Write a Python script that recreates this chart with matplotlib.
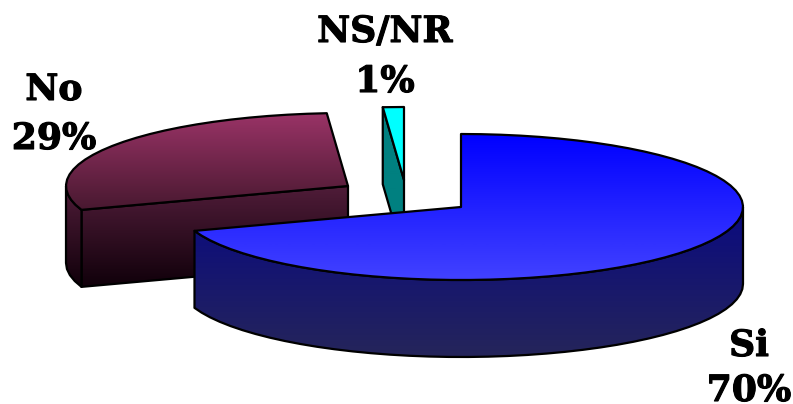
import numpy as np
import matplotlib
matplotlib.use("Agg")
import matplotlib.pyplot as plt
import matplotlib.patheffects as pe
from matplotlib.patches import Polygon
from matplotlib.colors import LinearSegmentedColormap

# datos de la torta (los rotulos van redondeados)
labels = ["Si", "No", "NS/NR"]
values = [69.7, 29.1, 1.2]
pct_text = ["70%", "29%", "1%"]

# geometria en pixeles de la imagen
RX, RY, DEPTH = 282, 73, 77
centers = {"Si": (461, 207), "No": (348, 186), "NS/NR": (404, 180)}
label_pos = {"Si": (749, 346, 391), "No": (54, 90, 139), "NS/NR": (385, 32, 82)}

top_colors = {
    "Si": ("#0000ff", "#4242ff", 134, 280),
    "No": ("#993366", "#47182f", 114, 211),
    "NS/NR": ("#00ffff", "#00ffff", 107, 180),
}
side_colors = {
    "Si": ("#0a0a80", "#25255a", 207, 357),
    "No": ("#4f1c38", "#10000a", 187, 287),
    "NS/NR": ("#008080", "#008080", 107, 260),
}


def rim(cx, cy, a0, a1, dy=0, step=4):
    # angulos en grados, en sentido horario desde arriba
    n = max(2, int(abs(a1 - a0) / step) + 1)
    t = np.radians(np.linspace(a0, a1, n))
    return np.column_stack([cx + RX * np.sin(t), cy - RY * np.cos(t) + dy])


def gradient_poly(ax, pts, colors, zorder):
    c0, c1, y0, y1 = colors
    cmap = LinearSegmentedColormap.from_list("g", [c0, c1])
    grad = np.linspace(0, 1, 256).reshape(-1, 1)
    im = ax.imshow(grad, cmap=cmap, extent=(0, 793, y1, y0), aspect="auto",
                   interpolation="bilinear", zorder=zorder)
    patch = Polygon(pts, closed=True, fc="none", ec="black", lw=1.6,
                    joinstyle="round", zorder=zorder + 0.5)
    ax.add_patch(patch)
    im.set_clip_path(patch)


fig = plt.figure(figsize=(7.93, 4.04), dpi=100)
ax = fig.add_axes([0, 0, 1, 1])

# limites de cada porcion, empezando arriba y en sentido horario
total = sum(values)
spans = {}
a = 0
for name, v in zip(labels, values):
    spans[name] = (a, a + 360 * v / total)
    a += 360 * v / total

z = {"No": 1, "NS/NR": 5, "Si": 10}
for name in labels:
    a0, a1 = spans[name]
    cx, cy = centers[name]
    zo = z[name]

    # cara del corte (solo la del angulo inicial se ve)
    p = rim(cx, cy, a0, a0)[0]
    face = [p, (cx, cy), (cx, cy + DEPTH), (p[0], p[1] + DEPTH)]
    if name != "Si":
        gradient_poly(ax, face, side_colors[name], zo)

    # pared exterior, la mitad delantera del borde
    w0, w1 = max(a0, 90), min(a1, 270)
    if w0 < w1:
        upper = rim(cx, cy, w0, w1)
        lower = rim(cx, cy, w1, w0, dy=DEPTH)
        gradient_poly(ax, np.vstack([upper, lower]), side_colors[name], zo + 1)

    # tapa
    top = np.vstack([rim(cx, cy, a0, a1), [(cx, cy)]])
    gradient_poly(ax, top, top_colors[name], zo + 2)

heavy = [pe.withStroke(linewidth=0.8, foreground="black")]
for name, pct in zip(labels, pct_text):
    x, y1, y2 = label_pos[name]
    for txt, y in ((name, y1), (pct, y2)):
        ax.text(x, y, txt, ha="center", va="center", fontsize=26,
                fontweight="bold", family="DejaVu Serif", color="black",
                zorder=20, path_effects=heavy)

ax.set_xlim(0, 793)
ax.set_ylim(404, 0)
ax.axis("off")
fig.savefig("out.png", dpi=100, facecolor="white")
